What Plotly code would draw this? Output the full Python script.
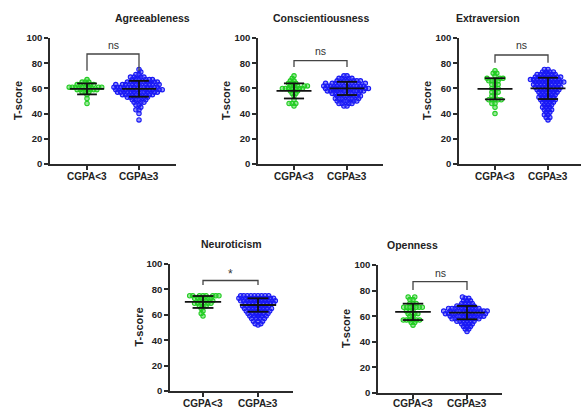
import math
import plotly.graph_objects as go

# ---------------- data ----------------
traits = ["Agreeableness", "Conscientiousness", "Extraversion", "Neuroticism", "Openness"]
groups = ["CGPA<3", "CGPA≥3"]
sig_labels = ["ns", "ns", "ns", "*", "ns"]

agree_lt3 = [67] + [65]*3 + [63]*5 + [61]*8 + [59]*6 + [57]*3 + [55, 52, 48]
agree_ge3 = ([75, 73] + [71]*2 + [69]*4 + [67]*6 + [65]*8 + [63]*10 + [61]*11 + [59]*11 +
             [57]*10 + [55]*8 + [53]*6 + [51]*4 + [49]*3 + [47]*2 + [45] + [43]*2 + [40, 35])
consc_lt3 = [70, 68] + [66]*2 + [64]*3 + [62]*5 + [60]*7 + [58]*3 + [56]*2 + [54, 51] + [48]*3 + [46]
consc_ge3 = ([70]*2 + [68]*4 + [66]*6 + [64]*9 + [62]*10 + [60]*10 + [58]*9 + [56]*7 +
             [54]*6 + [52]*6 + [50]*5 + [48]*4 + [46]*2)
extra_lt3 = [74] + [72]*2 + [70] + [68]*3 + [66]*4 + [63]*3 + [60]*3 + [57]*3 + [54]*2 + [51]*5 + [48]*2 + [45, 40]
extra_ge3 = ([75]*2 + [73]*4 + [71]*6 + [69]*8 + [67]*9 + [65]*9 + [63]*8 + [61]*8 + [59]*7 +
             [57]*6 + [55]*5 + [53]*5 + [51]*5 + [49]*4 + [47]*3 + [45]*3 + [43]*3 + [41]*2 +
             [39]*2 + [37]*2 + [35])
neuro_lt3 = [75]*8 + [73]*5 + [71]*4 + [69]*5 + [67]*3 + [65, 63, 61, 59]
neuro_ge3 = ([75]*9 + [73]*10 + [71]*10 + [69]*9 + [67]*8 + [65]*8 + [63]*7 + [61]*6 +
             [59]*5 + [57]*4 + [55]*3 + [53]*2 + [52])
open_lt3 = [75]*2 + [73]*2 + [70]*3 + [67]*7 + [64]*3 + [62]*3 + [60]*2 + [57]*6 + [55]*2 + [53]
open_ge3 = ([75] + [74]*2 + [72]*3 + [70]*4 + [68]*6 + [66]*9 + [64]*11 + [62]*11 + [60]*9 +
            [58]*8 + [56]*6 + [54]*4 + [52]*3 + [50]*2 + [48])

mean_lt3 = [59.6, 58.0, 59.7, 70.1, 63.4]
sd_lt3 = [4.35, 6.0, 8.4, 4.7, 6.4]
mean_ge3 = [59.7, 60.0, 60.0, 67.7, 62.8]
sd_ge3 = [6.3, 5.25, 8.45, 5.3, 5.2]

data_lt3 = [agree_lt3, consc_lt3, extra_lt3, neuro_lt3, open_lt3]
data_ge3 = [agree_ge3, consc_ge3, extra_ge3, neuro_ge3, open_ge3]

# ---------------- layout (pixels) ----------------
W, H = 581, 410
# left, right, top(y=100), bottom(y=0), category0 px, category1 px, x-label gap
panels = [
    (50, 176, 38, 164, 87, 139, 13),
    (258, 383, 38, 164, 294, 347, 13),
    (459, 584, 38, 164, 495, 548, 13),
    (170, 293, 264, 391, 203, 258, 12.5),
    (378, 502, 265, 393, 413, 467, 10.5),
]
bracket_top = [87.3, 82, 86.5, 87, 87]
bracket_leg = [74, 77, 80.4, 83.5, 80.5]
label_y = [94.5, 89.5, 94.5, 92.5, 94]

GREEN = "rgb(34,205,34)"
GREEN_F = "rgba(34,205,34,0.45)"
BLUE = "rgb(25,25,245)"
BLUE_F = "rgba(25,25,245,0.45)"
AX = "#2b2b2b"
FONT = "Liberation Sans, Arial, sans-serif"


def swarm(values, ppu_y, d):
    order = sorted(range(len(values)), key=lambda i: values[i])
    placed = []
    offs = [0.0] * len(values)
    for i in order:
        y = values[i] * ppu_y
        neigh = [(px, py) for px, py in placed if abs(py - y) < d]
        cands = [0.0]
        for px, py in neigh:
            dx = math.sqrt(max(d * d - (py - y) ** 2, 0))
            cands += [px + dx, px - dx]
        cands.sort(key=lambda c: (abs(c), c))
        chosen = cands[-1]
        for c in cands:
            if all((c - px) ** 2 + (y - py) ** 2 >= d * d - 1e-6 for px, py in neigh):
                chosen = c
                break
        placed.append((chosen, y))
        offs[i] = chosen
    return offs


fig = go.Figure()
annotations = []
layout_axes = {}

for k, (L, R, T, B, c0, c1, gap) in enumerate(panels):
    n = "" if k == 0 else str(k + 1)
    xa, ya = "x" + n, "y" + n
    unit = c1 - c0
    Rc = min(R, W)
    r0 = (L - c0) / unit
    r1 = (Rc - c0) / unit
    ppu_y = (B - T) / 100.0

    layout_axes["xaxis" + n] = dict(
        domain=[L / W, Rc / W], range=[r0, r1], anchor=ya, automargin=False,
        tickvals=[0, 1], showticklabels=False, ticks="outside", ticklen=4, tickwidth=1.5,
        tickcolor=AX, showline=True, linecolor=AX, linewidth=1.5,
        showgrid=False, zeroline=False, fixedrange=True,
    )
    layout_axes["yaxis" + n] = dict(
        domain=[1 - B / H, 1 - T / H], range=[0, 100], anchor=xa, automargin=False,
        tickvals=[0, 20, 40, 60, 80, 100], ticks="outside", ticklen=4, tickwidth=1.5,
        tickcolor=AX, showline=True, linecolor=AX, linewidth=1.5,
        showgrid=False, zeroline=False, fixedrange=True,
        tickfont=dict(family=FONT, size=9.5, color="#222", weight="bold"),
    )

    # category labels under the x axis
    for gi, g in enumerate(groups):
        annotations.append(dict(
            x=gi, xref=xa, y=1 - (B + gap) / H, yref="paper", text=g, showarrow=False,
            xanchor="center", yanchor="middle",
            font=dict(family=FONT, size=10, color="#222", weight="bold"),
        ))

    for gi, (vals, col, fill, mu, sd) in enumerate([
        (data_lt3[k], GREEN, GREEN_F, mean_lt3[k], sd_lt3[k]),
        (data_ge3[k], BLUE, BLUE_F, mean_ge3[k], sd_ge3[k]),
    ]):
        offs = swarm(vals, ppu_y, 3.1)
        xs = [gi + o / unit for o in offs]
        fig.add_trace(go.Scatter(
            x=xs, y=vals, mode="markers", xaxis=xa, yaxis=ya, showlegend=False,
            marker=dict(size=4.4, color=fill, line=dict(color=col, width=1.1)),
            hoverinfo="skip",
        ))
        # mean and SD bars
        fig.add_trace(go.Scatter(
            x=[gi - 0.33, gi + 0.33, None, gi - 0.19, gi + 0.19, None,
               gi - 0.19, gi + 0.19, None, gi, gi],
            y=[mu, mu, None, mu + sd, mu + sd, None, mu - sd, mu - sd, None,
               mu - sd, mu + sd],
            mode="lines", xaxis=xa, yaxis=ya, showlegend=False,
            line=dict(color="#111", width=1.8), hoverinfo="skip",
        ))

    # significance bracket
    fig.add_trace(go.Scatter(
        x=[0, 0, 1, 1], y=[bracket_leg[k], bracket_top[k], bracket_top[k], bracket_leg[k]],
        mode="lines", xaxis=xa, yaxis=ya, showlegend=False,
        line=dict(color="#444", width=1.3), hoverinfo="skip", cliponaxis=False,
    ))
    annotations.append(dict(
        x=0.5, y=label_y[k], xref=xa, yref=ya, text=sig_labels[k], showarrow=False,
        font=dict(family=FONT, size=10.5 if sig_labels[k] == "ns" else 12, color="#333"),
        yanchor="middle",
    ))
    # panel title
    annotations.append(dict(
        x=((L + R) / 2) / W, y=1 - (T - 20) / H, xref="paper", yref="paper",
        text=traits[k], showarrow=False, yanchor="middle",
        font=dict(family=FONT, size=10.5, color="#222", weight="bold"),
    ))
    # y-axis title
    annotations.append(dict(
        x=(L - 32) / W, y=1 - ((T + B) / 2) / H, xref="paper", yref="paper",
        text="T-score", showarrow=False, textangle=-90, xanchor="center", yanchor="middle",
        font=dict(family=FONT, size=11, color="#222", weight="bold"),
    ))

fig.update_layout(
    width=W, height=H, margin=dict(l=0, r=0, t=0, b=0),
    paper_bgcolor="white", plot_bgcolor="white",
    annotations=annotations, **layout_axes,
)

fig.write_html(
    "out.html",
    config={"displayModeBar": False},
    post_script="document.body.style.margin='0';document.body.style.padding='0';"
                "document.body.style.overflow='hidden';",
)
